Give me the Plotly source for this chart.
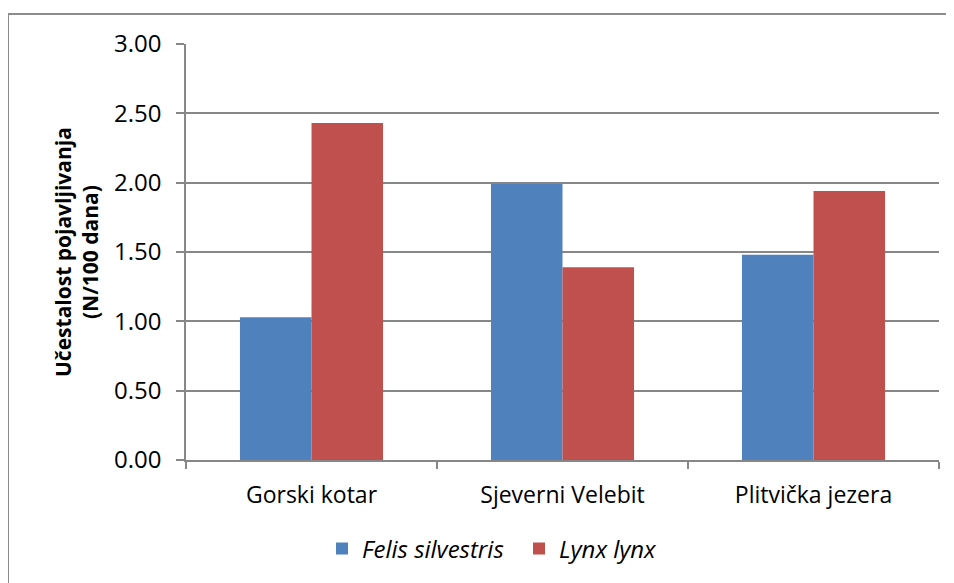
import plotly.graph_objects as go

categories = ["Gorski kotar", "Sjeverni Velebit", "Plitvička jezera"]
felis = [1.03, 1.99, 1.48]
lynx = [2.43, 1.39, 1.94]
series_names = ["<i>Felis silvestris</i>", "<i>Lynx lynx</i>"]
y_ticks = [0, 0.5, 1.0, 1.5, 2.0, 2.5, 3.0]
y_ticktext = [f"{v:.2f}" for v in y_ticks]
y_title = "<b>Učestalost pojavljivanja<br>(N/100 dana)</b>"

FONT = "'Open Sans', sans-serif"
GRID = "#878787"
OFF = 8  # page body margin
W, H = 954 - OFF, 583 - OFF
L, T = 186 - OFF, 44 - OFF
R = W - (939 - OFF)
B = H - (460 - OFF)
PW = W - L - R
PH = H - T - B

def px_x(x):
    return (x - OFF - L) / PW

def px_y(y):
    return (H - B - (y - OFF)) / PH

fig = go.Figure()
fig.add_trace(go.Bar(x=categories, y=felis, name=series_names[0],
                     marker=dict(color="#4F81BD", line=dict(width=0))))
fig.add_trace(go.Bar(x=categories, y=lynx, name=series_names[1],
                     marker=dict(color="#C0504D", line=dict(width=0))))

fig.update_layout(
    width=W, height=H,
    margin=dict(l=L, r=R, t=T, b=B, autoexpand=False),
    paper_bgcolor="white", plot_bgcolor="white",
    barmode="group", bargap=0.43, bargroupgap=0,
    font=dict(family=FONT, size=23, color="black"),
    showlegend=True,
    legend=dict(orientation="h", x=px_x(519), xanchor="center", y=px_y(549), yanchor="middle",
                font=dict(size=24), itemsizing="constant", traceorder="normal",
                entrywidth=152, entrywidthmode="pixels"),
    xaxis=dict(type="category", tickson="boundaries", ticks="outside", ticklen=7,
               tickcolor=GRID, tickwidth=1.5, showline=True, linecolor=GRID, linewidth=1.5,
               showgrid=False, tickfont=dict(size=23), range=[-0.5, 2.5], automargin=False,
               ticklabelstandoff=14),
    yaxis=dict(range=[0, 3.0], tickvals=y_ticks, ticktext=y_ticktext,
               ticks="outside", ticklen=8, tickcolor=GRID, tickwidth=1.5,
               showline=True, linecolor=GRID, linewidth=1.5,
               showgrid=True, gridcolor=GRID, gridwidth=1.5, zeroline=False,
               tickfont=dict(size=24), automargin=False, ticklabelstandoff=10),
    annotations=[dict(text=y_title, xref="paper", yref="paper",
                      x=px_x(76), y=px_y(252), xanchor="center", yanchor="middle",
                      textangle=-90, showarrow=False, font=dict(size=21))],
    shapes=[dict(type="rect", xref="paper", yref="paper",
                 x0=px_x(8), x1=1.2, y0=-0.6, y1=px_y(14),
                 line=dict(color="#8C8C8C", width=2), fillcolor="rgba(0,0,0,0)", layer="below")],
)

fig.write_html("out.html")
